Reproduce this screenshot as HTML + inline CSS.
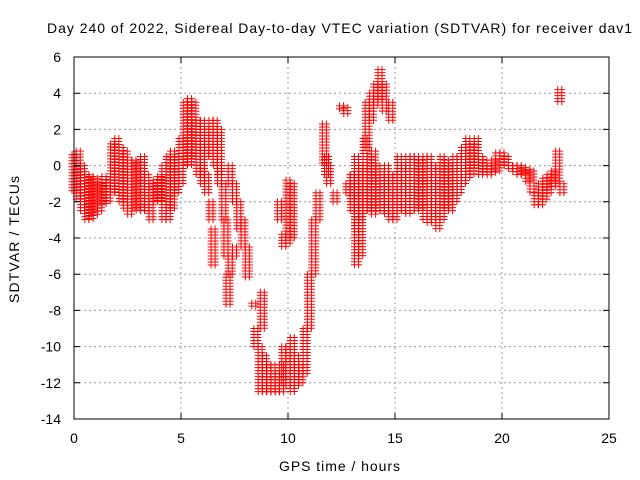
<!DOCTYPE html>
<html><head><meta charset="utf-8"><style>
body{margin:0;background:#fff}
svg{display:block;font-family:"Liberation Sans",sans-serif;font-size:14px}
</style></head><body>
<svg id="chart" width="640" height="480" viewBox="0 0 640 480">
<rect width="640" height="480" fill="#fff"/>
<g id="grid"></g>
<g id="marks"></g>
<rect x="74" y="57" width="535" height="362" fill="none" stroke="#000" stroke-width="1"/>
<g id="ticks"></g>
<text x="47" y="33" textLength="585" lengthAdjust="spacing">Day 240 of 2022, Sidereal Day-to-day VTEC variation (SDTVAR) for receiver dav1</text>
<text x="279" y="471" textLength="121" lengthAdjust="spacing">GPS time / hours</text>
<text transform="translate(19,303) rotate(-90)" textLength="127" lengthAdjust="spacing">SDTVAR / TECUs</text>
</svg>
<script>
const xTicks=[0,5,10,15,20,25];
const yTicks=[6,4,2,0,-2,-4,-6,-8,-10,-12,-14];
const times=[0.0,0.2,0.4,0.6,0.8,1.0,1.2,1.4,1.6,1.8,2.0,2.2,2.4,2.6,2.8,3.0,3.2,3.4,3.6,3.8,4.0,4.2,4.4,4.6,4.8,5.0,5.2,5.4,5.6,5.8,6.0,6.2,6.4,6.6,6.8,
6.0,6.2,6.4,6.5,6.8,7.0,7.1,7.2,7.3,7.5,7.3,7.5,7.7,7.9,8.1,8.4,
8.5,8.7,8.9,9.1,9.3,9.5,9.7,9.8,10.0,10.2,10.4,10.6,10.8,11.0,11.2,11.4,8.8,
9.6,9.8,10.0,10.2,11.7,11.8,11.9,12.2,12.5,12.7,
13.0,13.2,13.4,13.6,13.7,13.9,14.1,14.3,14.5,14.8,
12.8,13.0,13.2,13.4,13.6,13.8,14.0,14.2,14.4,14.6,14.8,15.0,15.2,15.4,15.6,15.8,16.0,16.2,16.4,16.6,16.8,17.0,17.2,17.4,17.6,17.8,18.0,18.2,18.4,18.6,18.8,19.0,19.2,19.4,19.6,19.8,20.0,20.2,20.4,20.6,20.8,21.0,21.2,21.4,21.6,21.8,22.0,22.2,22.4,22.6,22.8,22.7];
const lows=[-1.5,-2,-2.5,-3,-3,-2.7,-2.5,-2.2,-2,-1.5,-1.5,-2,-2.5,-2.7,-2.4,-2.5,-2.6,-2.5,-3,-2,-2,-3,-3,-2.5,-1.6,-1,0,0,0.5,-0.5,-0.5,0.5,0.5,0,-0.5,
-1,-1.5,-3,-5.5,-1,-3,-5,-7.8,-6,-5,-1,-2,-3.5,-4.5,-6.3,-7.8,
-10,-12.5,-12.5,-12.5,-12.5,-12.5,-12.5,-12,-12.3,-12.5,-12.3,-12,-11.5,-9,-6,-3,-9,
-3,-4.5,-4.3,-4,0,-0.5,-1,-2,3,2.8,
-2,-5.5,-5,-2,1,2.5,3.3,3.5,3,2.5,
-1.5,-2.5,-3.5,-3,-2.5,-2.5,-2.8,-2.5,-2.5,-2.8,-3,-3,-2.5,-2.5,-2.7,-2.5,-2.5,-2.5,-3,-3.3,-3,-3.5,-3,-2.5,-2.5,-2,-1.5,-1,-0.7,-0.5,0,-0.5,-0.5,-0.5,-0.5,-0.3,0,-0.1,-0.3,-0.4,-0.5,-0.5,-1,-1.5,-2.3,-2.3,-2,-1.5,-1.2,-1,-1.5,3.5];
const highs=[0.6,0.8,0,-0.5,-0.6,-0.7,-1,-0.6,-0.8,1.2,1.5,1,0.8,0.3,0.3,0.2,0.5,-0.5,-1,-0.8,-0.6,0,0.5,0.8,0.5,1.5,3.5,3.7,3.5,2.5,2.5,2,2.5,2.5,2,
0,-0.5,-2,-3.5,0,-1,-3,-6,-5,-4.5,0,-1,-2,-3,-4.5,-7.6,
-9,-10,-10.5,-11,-11,-11.5,-11,-10,-10,-9.5,-10.5,-11,-9,-6,-3,-1.5,-7,
-2,-3.8,-0.8,-1,2.3,0.5,0,-1.5,3.3,3.2,
-0.5,-1,0,1.5,3.5,4,4.5,5.3,4.5,3.5,
-1,-0.5,0.5,-0.5,0,0.5,0.8,0,-0.5,0,-0.5,-0.5,0.5,0,0.5,0.5,0.5,0.3,0.5,0.5,0,0,0.5,0.3,0,0.5,0.5,1,1.5,1.2,1.5,0.5,0.3,0,0.3,0.7,0.7,0.5,0,0,0,-0.1,-0.2,-0.3,-1.5,-1,-0.7,-0.5,-0.3,0.8,-1,4.2];

const X0=74,X1=609,Y0=419,Y1=57;
function xs(v){return X0+(v-0)/(25-0)*(X1-X0);}
function ys(v){return Y0-(v-(-14))/(6-(-14))*(Y0-Y1);}
const NS='http://www.w3.org/2000/svg';
const grid=document.getElementById('grid'),ticks=document.getElementById('ticks'),marks=document.getElementById('marks');
xTicks.forEach(t=>{
  const x=xs(t);
  if(t>0&&t<25){const l=document.createElementNS(NS,'line');
  
  
  l.setAttribute('x1',x);l.setAttribute('x2',x);l.setAttribute('y1',Y1);l.setAttribute('y2',Y0);
  l.setAttribute('stroke','#999');l.setAttribute('stroke-dasharray','2,3');grid.appendChild(l);}
  const tk=document.createElementNS(NS,'path');
  
  
  tk.setAttribute('d',`M${x} ${Y0}v-6M${x} ${Y1}v6`);tk.setAttribute('stroke','#000');ticks.appendChild(tk);
  const tx=document.createElementNS(NS,'text');
  
  
  tx.setAttribute('x',x);tx.setAttribute('y',443);tx.setAttribute('text-anchor','middle');tx.textContent=t;ticks.appendChild(tx);
});
yTicks.forEach(t=>{
  const y=ys(t);
  if(t<6&&t>-14){const l=document.createElementNS(NS,'line');
  
  
  l.setAttribute('x1',X0);l.setAttribute('x2',X1);l.setAttribute('y1',y);l.setAttribute('y2',y);
  l.setAttribute('stroke','#999');l.setAttribute('stroke-dasharray','2,3');grid.appendChild(l);}
  const tk=document.createElementNS(NS,'path');
  
  
  tk.setAttribute('d',`M${X0} ${y}h6M${X1} ${y}h-6`);tk.setAttribute('stroke','#000');ticks.appendChild(tk);
  const tx=document.createElementNS(NS,'text');
  
  
  tx.setAttribute('x',61);tx.setAttribute('y',y+5);tx.setAttribute('text-anchor','end');tx.textContent=t;ticks.appendChild(tx);
});
for(let i=0;i<times.length;i++){
  const cx=xs(times[i]);const ya=ys(highs[i]),yb=ys(lows[i]);
  let d='';
  for(const dx of [-2,2]){
    for(let y=ya;y<=yb+0.1;y+=3){const px=cx+dx;d+=`M${px-3.5} ${y}h7M${px} ${y-3.5}v7`;}
  }
  const p=document.createElementNS(NS,'path');
  
  
  p.setAttribute('d',d);p.setAttribute('stroke','#f00');p.setAttribute('stroke-width','1');p.setAttribute('fill','none');
  marks.appendChild(p);
}
</script>
</body></html>
